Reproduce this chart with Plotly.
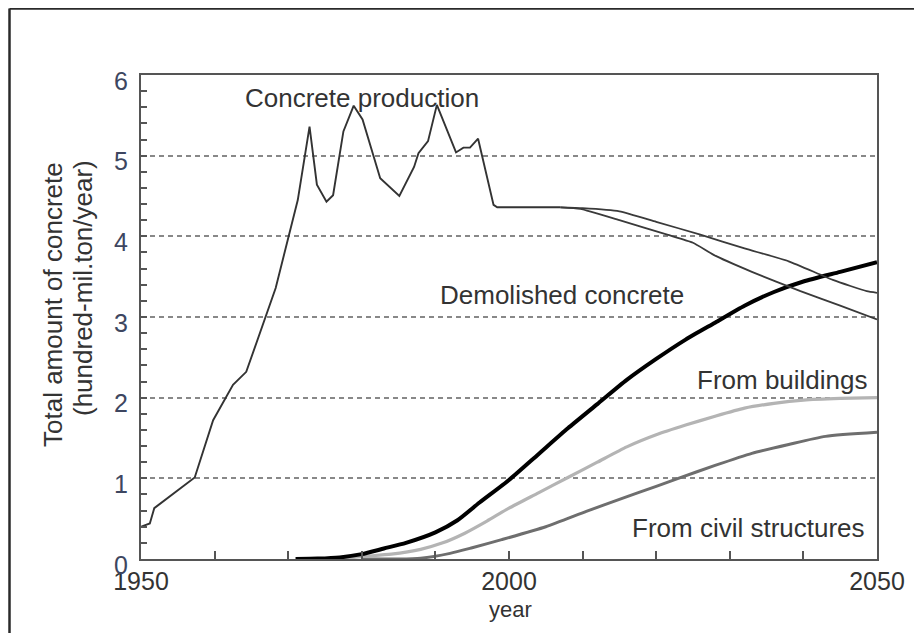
import plotly.graph_objects as go

# ---------------- data ----------------
prod_years = [1950, 1951.2, 1951.8, 1957.3, 1959.8, 1962.5, 1964.3, 1966.6, 1968.3,
              1971.3, 1972.0, 1972.9, 1973.9, 1975.2, 1976.1, 1977.5, 1978.9, 1980.1,
              1982.5, 1985.1, 1987.1, 1987.7, 1989.0, 1990.2, 1992.8, 1993.8, 1994.7,
              1995.8, 1997.9, 1998.4, 2007]
prod_vals = [0.40, 0.44, 0.63, 1.01, 1.72, 2.16, 2.32, 2.92, 3.36,
             4.45, 4.83, 5.36, 4.64, 4.43, 4.51, 5.30, 5.62, 5.45,
             4.72, 4.50, 4.86, 5.03, 5.18, 5.63, 5.04, 5.10, 5.10,
             5.21, 4.39, 4.36, 4.36]

proj_a_years = [2007, 2010, 2015, 2020, 2026, 2032, 2038, 2044, 2048.6, 2050]
proj_a_vals = [4.36, 4.35, 4.31, 4.18, 4.02, 3.85, 3.69, 3.46, 3.32, 3.30]

proj_b_years = [2007, 2009.7, 2015, 2021.5, 2025, 2027.8, 2033, 2039.6, 2045, 2050]
proj_b_vals = [4.36, 4.34, 4.20, 4.02, 3.92, 3.77, 3.56, 3.32, 3.14, 2.97]

demol_years = [1971, 1974, 1977, 1980, 1983, 1986, 1990, 1993, 1996, 2000, 2004,
               2008, 2012, 2016, 2020, 2024, 2028, 2032, 2036, 2040, 2045, 2050]
demol_vals = [0.0, 0.005, 0.02, 0.06, 0.13, 0.20, 0.33, 0.48, 0.70, 0.98, 1.30,
              1.62, 1.92, 2.22, 2.48, 2.72, 2.93, 3.14, 3.31, 3.44, 3.56, 3.68]

bldg_years = [1977, 1980, 1984, 1988, 1991, 1994, 1997, 2000, 2004, 2008, 2012,
              2016, 2020, 2024, 2028, 2032, 2036, 2040, 2045, 2050]
bldg_vals = [0.0, 0.03, 0.06, 0.12, 0.20, 0.32, 0.47, 0.63, 0.82, 1.01, 1.20,
             1.39, 1.54, 1.66, 1.77, 1.87, 1.93, 1.97, 1.99, 2.00]

civil_years = [1980, 1985, 1988, 1992, 1995, 1999, 2005, 2010.5, 2015, 2020, 2023,
               2028, 2033, 2038, 2043, 2050]
civil_vals = [0.0, 0.0, 0.01, 0.07, 0.14, 0.24, 0.40, 0.59, 0.74, 0.90, 1.00,
              1.16, 1.31, 1.42, 1.52, 1.57]

x_tick_vals = [1950, 2000, 2050]
x_tick_text = ["1950", "2000", "2050"]
y_tick_vals = [0, 1, 2, 3, 4, 5, 6]

labels = {
    "prod": "Concrete production",
    "demol": "Demolished concrete",
    "bldg": "From buildings",
    "civil": "From civil structures",
}
y_title = ["Total amount of concrete", "(hundred-mil.ton/year)"]
x_title = "year"

# ---------------- figure ----------------
FONT = "Liberation Sans, Arial, sans-serif"
TXT = "#333333"
OFF = 8  # page body margin in the browser
W, H = 922, 633
L, T = 141 - OFF, 75 - OFF
R = W - (877 - OFF)
B = H - (559 - OFF)
PW, PH = W - L - R, H - T - B

fig = go.Figure()
fig.add_trace(go.Scatter(x=civil_years, y=civil_vals, mode="lines",
                         line=dict(color="#6e6e6e", width=3, shape="spline", smoothing=0.6)))
fig.add_trace(go.Scatter(x=bldg_years, y=bldg_vals, mode="lines",
                         line=dict(color="#b4b4b4", width=3.2, shape="spline", smoothing=0.6)))
fig.add_trace(go.Scatter(x=demol_years, y=demol_vals, mode="lines",
                         line=dict(color="#000000", width=4, shape="spline", smoothing=0.6)))
fig.add_trace(go.Scatter(x=proj_a_years, y=proj_a_vals, mode="lines",
                         line=dict(color="#3a3a3a", width=1.8, shape="spline", smoothing=0.5)))
fig.add_trace(go.Scatter(x=proj_b_years, y=proj_b_vals, mode="lines",
                         line=dict(color="#3a3a3a", width=1.8, shape="spline", smoothing=0.5)))
fig.add_trace(go.Scatter(x=prod_years, y=prod_vals, mode="lines",
                         line=dict(color="#333333", width=1.9)))

fig.update_layout(
    width=W, height=H,
    margin=dict(l=L, r=R, t=T, b=B, autoexpand=False),
    paper_bgcolor="white", plot_bgcolor="white",
    showlegend=False,
    font=dict(family=FONT, size=26, color=TXT),
)
fig.update_xaxes(
    range=[1950, 2050], tickvals=x_tick_vals, ticktext=x_tick_text,
    ticks="inside", ticklen=8, tickwidth=1.5, tickcolor="#555555",
    minor=dict(dtick=10, tick0=1950, ticks="inside", ticklen=8, tickwidth=1.5, tickcolor="#555555"),
    showline=True, linecolor="#555555", linewidth=2, mirror=True,
    showgrid=False, zeroline=False, automargin=False,
    tickfont=dict(family=FONT, size=25, color=TXT), ticklabelstandoff=-1,
)
fig.update_yaxes(
    range=[0, 6], tickvals=y_tick_vals,
    ticks="inside", ticklen=6, tickwidth=1.5, tickcolor="#555555",
    minor=dict(dtick=0.2, ticks="inside", ticklen=6, tickwidth=1.5, tickcolor="#555555", showgrid=False),
    showline=True, linecolor="#555555", linewidth=2, mirror=True,
    showgrid=True, gridcolor="#888888", gridwidth=1.5, griddash="5px,4px",
    zeroline=False, automargin=False,
    tickfont=dict(family=FONT, size=25, color="#3d4660"), ticklabelstandoff=6,
    ticklabelshift=6,
)

ann = [
    dict(x=1963.9, y=5.72, text=labels["prod"], xanchor="left", yanchor="middle"),
    dict(x=1990.3, y=3.27, text=labels["demol"], xanchor="left", yanchor="middle"),
    dict(x=2049.1, y=2.22, text=labels["bldg"], xanchor="right", yanchor="middle"),
    dict(x=2048.6, y=0.38, text=labels["civil"], xanchor="right", yanchor="middle"),
]
for a in ann:
    fig.add_annotation(**a, xref="x", yref="y", showarrow=False,
                       font=dict(family=FONT, size=26, color=TXT))

# positions given in screenshot pixels, converted to paper coords
def px_x(p):
    return (p - OFF - L) / float(PW)

def px_y(p):
    return (H - B - (p - OFF)) / float(PH)

fig.add_annotation(x=px_x(53), y=px_y(305), xref="paper", yref="paper",
                   text=y_title[0], textangle=-90, showarrow=False,
                   xanchor="center", yanchor="middle",
                   font=dict(family=FONT, size=26, color=TXT))
fig.add_annotation(x=px_x(83), y=px_y(288), xref="paper", yref="paper",
                   text=y_title[1], textangle=-90, showarrow=False,
                   xanchor="center", yanchor="middle",
                   font=dict(family=FONT, size=26, color=TXT))
fig.add_annotation(x=px_x(510), y=px_y(609), xref="paper", yref="paper",
                   text=x_title, showarrow=False, xanchor="center", yanchor="middle",
                   font=dict(family=FONT, size=22, color=TXT))

# outer frame (top and left edges)
fig.add_shape(type="line", xref="paper", yref="paper",
              x0=px_x(9.5), x1=px_x(940), y0=px_y(8.5), y1=px_y(8.5),
              line=dict(color="#2a2a2a", width=2.5))
fig.add_shape(type="line", xref="paper", yref="paper",
              x0=px_x(9.5), x1=px_x(9.5), y0=px_y(8.5), y1=px_y(660),
              line=dict(color="#2a2a2a", width=2.5))

fig.write_html("out.html")
